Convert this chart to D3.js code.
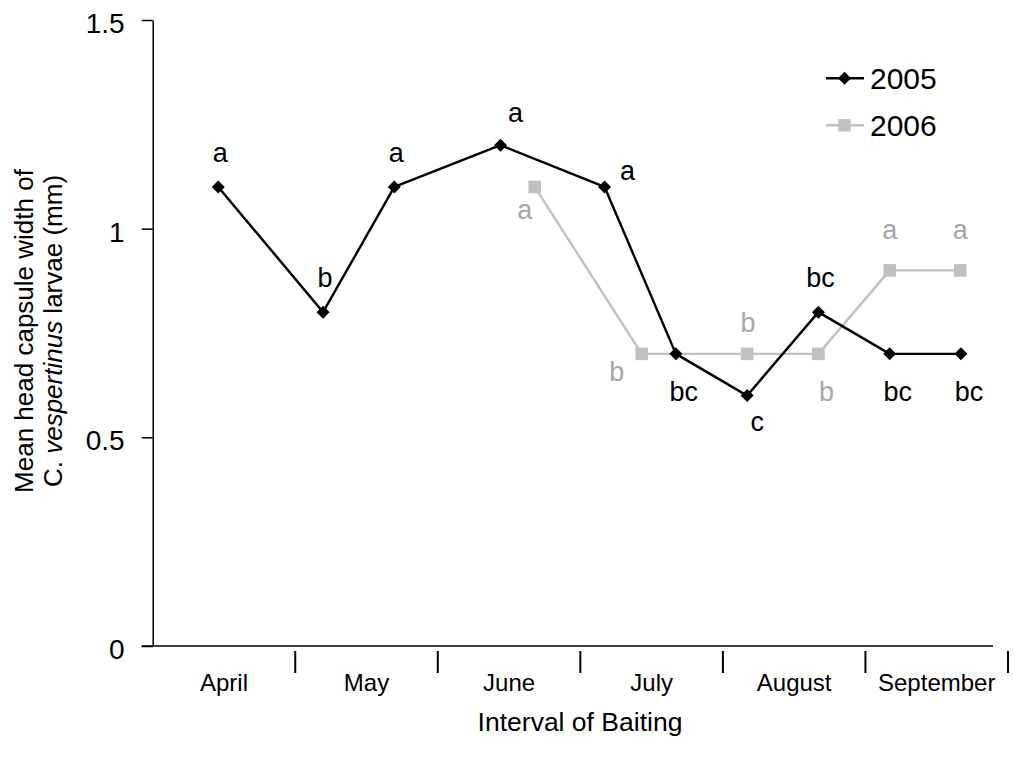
<!DOCTYPE html>
<html>
<head>
<meta charset="utf-8">
<script src="https://cdn.jsdelivr.net/npm/d3@7"></script>
<style>
  html, body { margin: 0; padding: 0; background: #ffffff; }
  svg { display: block; font-family: "Liberation Sans", Arial, Helvetica, sans-serif; }
</style>
</head>
<body>
<svg id="chart" width="1013" height="761"></svg>
<script>
// Baiting intervals (one per month) and y-axis ticks
const months = ["April", "May", "June", "July", "August", "September"];
const yTickValues = [0, 0.5, 1, 1.5];
const yTickLabels = ["0", "0.5", "1", "1.5"];

// Sampling dates, expressed in months since the start of April
const samplePos2005 = [0.46, 1.195, 1.695, 2.44, 3.17, 3.67, 4.17, 4.67, 5.17, 5.67];
const samplePos2006 = [2.68, 3.43, 4.17, 4.67, 5.17, 5.665];

// Mean head capsule width (mm)
const width2005 = [1.1, 0.8, 1.1, 1.2, 1.1, 0.7, 0.6, 0.8, 0.7, 0.7];
const width2006 = [1.1, 0.7, 0.7, 0.7, 0.9, 0.9];

// Significance letters and where each sits around its point
const letters2005 = ["a", "b", "a", "a", "a", "bc", "c", "bc", "bc", "bc"];
const letters2006 = ["a", "b", "b", "b", "a", "a"];
const place2005 = ["above", "above", "above", "aboveRight", "right", "below", "belowNear", "above", "below", "below"];
const place2006 = ["belowLeft", "leftBelow", "aboveLow", "below", "aboveHigh", "aboveHigh"];

const seriesNames = ["2005", "2006"];

// label offsets (text centre / baseline relative to the point)
const placeOffset = {
  above:      { dx: 2,   dy: -25 },
  aboveRight: { dx: 15,  dy: -23.5 },
  right:      { dx: 23,  dy: -7 },
  below:      { dx: 8,   dy: 47 },
  belowNear:  { dx: 10,  dy: 35 },
  belowLeft:  { dx: -10, dy: 32 },
  leftBelow:  { dx: -25, dy: 27 },
  aboveLow:   { dx: 1,   dy: -22 },
  aboveHigh:  { dx: 0,   dy: -31.7 }
};

const BLACK = "#000000";
const GREY = "#c0c0c0";
const GREY_TEXT = "#a6a6a6";

const svg = d3.select("#chart");

const x = d3.scaleLinear().domain([0, months.length]).range([152.7, 1008]);
const y = d3.scaleLinear().domain([0, 1.5]).range([646, 20]);

// ---- y axis ----
const yAxis = d3.axisLeft(y)
  .tickValues(yTickValues)
  .tickFormat((d, i) => yTickLabels[i])
  .tickSize(11)
  .tickSizeOuter(0)
  .tickPadding(17);

const gy = svg.append("g")
  .attr("transform", `translate(${x(0)},0)`)
  .call(yAxis);
gy.select(".domain").attr("stroke", BLACK).attr("stroke-width", 1.5);
gy.selectAll(".tick line").attr("stroke", BLACK).attr("stroke-width", 1.5);
gy.selectAll(".tick text")
  .attr("fill", BLACK)
  .attr("font-size", 28)
  .attr("dy", null)
  .attr("y", 12.5);

// ---- x axis line and month separators ----
svg.append("line")
  .attr("x1", x(0) - 11).attr("x2", 993)
  .attr("y1", y(0)).attr("y2", y(0))
  .attr("stroke", BLACK).attr("stroke-width", 1.5);

svg.append("g").selectAll("line")
  .data(d3.range(1, months.length + 1))
  .join("line")
  .attr("x1", d => x(d)).attr("x2", d => x(d))
  .attr("y1", 651).attr("y2", 673)
  .attr("stroke", BLACK).attr("stroke-width", 2);

svg.append("g").selectAll("text")
  .data(months)
  .join("text")
  .attr("x", (d, i) => x(i + 0.5))
  .attr("y", 690.7)
  .attr("text-anchor", "middle")
  .attr("font-size", 24)
  .attr("fill", BLACK)
  .text(d => d);

// ---- axis titles ----
svg.append("text")
  .attr("x", 580)
  .attr("y", 730.7)
  .attr("text-anchor", "middle")
  .attr("font-size", 26.5)
  .attr("fill", BLACK)
  .text("Interval of Baiting");

const yTitle = svg.append("text")
  .attr("transform", "translate(0,331) rotate(-90)")
  .attr("text-anchor", "middle")
  .attr("font-size", 26)
  .attr("fill", BLACK);
yTitle.append("tspan").attr("x", 0).attr("y", 33).text("Mean head capsule width of");
const line2 = yTitle.append("tspan").attr("x", 0).attr("y", 61.5);
line2.append("tspan").text("C. ");
line2.append("tspan").attr("font-style", "italic").text("vespertinus");
line2.append("tspan").text(" larvae (mm)");

// ---- series ----
const s2005 = samplePos2005.map((p, i) => ({ p, v: width2005[i], t: letters2005[i], pl: place2005[i] }));
const s2006 = samplePos2006.map((p, i) => ({ p, v: width2006[i], t: letters2006[i], pl: place2006[i] }));

const line = d3.line().x(d => x(d.p)).y(d => y(d.v));

// 2006 underneath
svg.append("path")
  .datum(s2006)
  .attr("d", line)
  .attr("fill", "none")
  .attr("stroke", GREY)
  .attr("stroke-width", 2.4)
  .attr("stroke-linejoin", "round");

svg.append("g").selectAll("rect")
  .data(s2006)
  .join("rect")
  .attr("x", d => x(d.p) - 6.3)
  .attr("y", d => y(d.v) - 6.3)
  .attr("width", 12.6)
  .attr("height", 12.6)
  .attr("fill", GREY);

svg.append("path")
  .datum(s2005)
  .attr("d", line)
  .attr("fill", "none")
  .attr("stroke", BLACK)
  .attr("stroke-width", 2.4)
  .attr("stroke-linejoin", "round");

const diamond = d3.symbol().type(d3.symbolDiamond2 || d3.symbolSquare2).size(80);
const diamondPath = "M0,-6.5L6.5,0L0,6.5L-6.5,0Z";

svg.append("g").selectAll("path")
  .data(s2005)
  .join("path")
  .attr("transform", d => `translate(${x(d.p)},${y(d.v)})`)
  .attr("d", diamondPath)
  .attr("fill", BLACK);

// ---- significance letters ----
function drawLetters(data, colour) {
  svg.append("g").selectAll("text")
    .data(data)
    .join("text")
    .attr("x", d => x(d.p) + placeOffset[d.pl].dx)
    .attr("y", d => y(d.v) + placeOffset[d.pl].dy)
    .attr("text-anchor", "middle")
    .attr("font-size", 27)
    .attr("fill", colour)
    .text(d => d.t);
}
drawLetters(s2006, GREY_TEXT);
drawLetters(s2005, BLACK);

// ---- legend ----
const legend = svg.append("g").attr("transform", "translate(826,78.3)");
const rowGap = 47;
seriesNames.forEach((name, i) => {
  const g = legend.append("g").attr("transform", `translate(0,${i * rowGap})`);
  const c = i === 0 ? BLACK : GREY;
  g.append("line").attr("x1", 0).attr("x2", 38).attr("y1", 0).attr("y2", 0)
    .attr("stroke", c).attr("stroke-width", 2.4);
  if (i === 0) {
    g.append("path").attr("transform", "translate(18.5,0)").attr("d", diamondPath).attr("fill", BLACK);
  } else {
    g.append("rect").attr("x", 18.5 - 6.2).attr("y", -6.2).attr("width", 12.4).attr("height", 12.4).attr("fill", GREY);
  }
  g.append("text")
    .attr("x", 44)
    .attr("y", 11)
    .attr("font-size", 30)
    .attr("fill", BLACK)
    .text(name);
});
</script>
</body>
</html>
